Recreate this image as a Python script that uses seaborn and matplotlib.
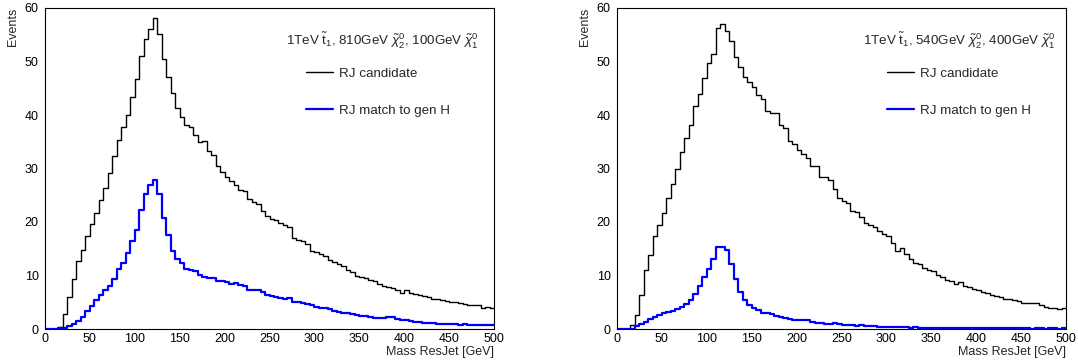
import numpy as np
import pandas as pd
import matplotlib
matplotlib.use("Agg")
import matplotlib.pyplot as plt
from matplotlib.lines import Line2D
from matplotlib.ticker import MultipleLocator
import seaborn as sns

# ---------------- data ----------------
n_bins = 100
mass_range = (0, 500)
bin_centers = np.arange(2.5, 500, 5)      # centres of 5 GeV bins

left_candidate = [
    0, 0, 0, 0.3, 2.8, 6.0, 9.3, 12.8, 14.8, 17.4,
    19.7, 21.6, 24.1, 26.3, 29.2, 32.4, 35.4, 37.7, 40.0, 43.4,
    46.7, 51.0, 54.2, 56.0, 58.2, 55.2, 50.4, 47.1, 44.1, 41.4,
    39.7, 38.2, 37.7, 36.3, 34.9, 35.1, 33.3, 32.6, 30.4, 29.4,
    28.4, 27.7, 27.0, 25.9, 25.8, 24.3, 23.7, 23.4, 22.1, 21.2,
    20.6, 20.3, 19.9, 19.5, 19.0, 17.1, 16.7, 16.4, 15.9, 14.6,
    14.3, 14.1, 13.6, 12.9, 12.6, 12.2, 11.7, 11.0, 10.6, 10.0,
    9.8, 9.5, 9.2, 9.0, 8.5, 8.1, 7.8, 7.7, 7.3, 6.8,
    7.2, 6.7, 6.5, 6.3, 6.1, 5.9, 5.7, 5.6, 5.4, 5.2,
    5.1, 5.0, 4.8, 4.7, 4.5, 4.4, 4.4, 4.0, 4.2, 4.0,
]
left_match = [
    0, 0, 0, 0.1, 0.2, 0.5, 0.9, 1.5, 2.3, 3.4,
    4.3, 5.5, 6.3, 7.2, 8.1, 9.4, 11.2, 12.4, 14.2, 16.5,
    18.5, 22.3, 25.2, 26.9, 27.9, 25.2, 20.7, 17.6, 14.6, 13.1,
    12.3, 11.2, 11.0, 10.8, 10.1, 9.8, 9.6, 9.5, 9.0, 8.9,
    8.7, 8.5, 8.6, 8.3, 8.0, 7.3, 7.2, 7.2, 6.9, 6.4,
    6.2, 6.0, 5.8, 5.6, 5.8, 5.1, 5.0, 4.9, 4.7, 4.4,
    4.2, 4.0, 3.9, 3.7, 3.4, 3.2, 3.0, 2.9, 2.8, 2.7,
    2.5, 2.4, 2.3, 2.1, 2.0, 2.0, 2.3, 2.2, 1.9, 1.7,
    1.7, 1.5, 1.4, 1.3, 1.2, 1.2, 1.1, 1.0, 1.0, 0.9,
    0.9, 0.9, 0.8, 0.9, 0.8, 0.75, 0.8, 0.7, 0.7, 0.7,
]
right_candidate = [
    0, 0, 0, 0.7, 2.6, 6.3, 11.0, 13.8, 17.3, 19.4,
    21.7, 24.5, 27.1, 29.9, 33.1, 35.7, 38.1, 41.7, 43.9, 46.9,
    49.8, 51.4, 56.3, 57.0, 55.7, 53.8, 50.8, 49.0, 47.1, 46.1,
    45.2, 43.8, 43.0, 40.8, 40.4, 40.3, 38.1, 37.5, 35.2, 34.5,
    33.5, 32.7, 32.0, 30.5, 30.5, 28.5, 28.4, 27.9, 26.1, 24.5,
    24.0, 23.6, 22.1, 21.8, 20.9, 19.9, 19.5, 19.0, 18.4, 17.7,
    17.3, 16.1, 14.5, 15.1, 14.0, 13.1, 12.4, 12.2, 11.4, 11.1,
    10.8, 10.1, 9.8, 9.2, 8.9, 8.5, 8.7, 8.0, 7.8, 7.5,
    7.2, 6.9, 6.7, 6.4, 6.1, 5.9, 5.7, 5.6, 5.4, 5.2,
    4.9, 4.9, 4.9, 4.9, 4.4, 4.1, 4.0, 3.9, 3.8, 3.9,
]
right_match = [
    0, 0, 0, 0.05, 0.5, 0.9, 1.3, 1.9, 2.3, 2.6,
    2.9, 3.2, 3.3, 3.7, 4.1, 4.6, 5.5, 6.6, 8.0, 9.7,
    11.2, 13.1, 15.4, 15.3, 14.8, 12.2, 9.3, 6.9, 5.4, 4.5,
    3.9, 3.5, 3.0, 3.0, 2.8, 2.4, 2.3, 2.0, 1.8, 1.6,
    1.6, 1.6, 1.7, 1.4, 1.2, 1.1, 0.9, 1.0, 1.1, 0.9,
    0.8, 0.8, 0.7, 0.6, 0.7, 0.5, 0.6, 0.5, 0.4, 0.4,
    0.4, 0.3, 0.3, 0.35, 0.3, 0.25, 0.3, 0.25, 0.2, 0.25,
    0.2, 0.2, 0.2, 0.15, 0.2, 0.15, 0.2, 0.15, 0.15, 0.1,
    0.15, 0.1, 0.15, 0.1, 0.1, 0.1, 0.1, 0.1, 0.1, 0.1,
    0.1, 0.1, 0.05, 0.1, 0.1, 0.05, 0.1, 0.1, 0.05, 0.1,
]

panel_titles = [
    r"1TeV $\tilde{\mathrm{t}}_{1}$, 810GeV $\tilde{\chi}_{2}^{0}$, 100GeV $\tilde{\chi}_{1}^{0}$",
    r"1TeV $\tilde{\mathrm{t}}_{1}$, 540GeV $\tilde{\chi}_{2}^{0}$, 400GeV $\tilde{\chi}_{1}^{0}$",
]
series_labels = ["RJ candidate", "RJ match to gen H"]
x_label = "Mass ResJet [GeV]"
y_label = "Events"

# ---------------- style ----------------
sns.set_style("white")
plt.rcParams["font.family"] = ["Liberation Sans", "DejaVu Sans"]
plt.rcParams["mathtext.fontset"] = "custom"
plt.rcParams["mathtext.rm"] = "Liberation Sans"
plt.rcParams["mathtext.it"] = "Liberation Sans:italic"
plt.rcParams["mathtext.bf"] = "Liberation Sans:bold"

TICK_FS = 9.0
LAB_FS = 9.0
LEG_FS = 9.6
fig = plt.figure(figsize=(10.78, 3.62), dpi=100)
W, H = 1078, 362

panels = [
    (45, left_candidate, left_match, panel_titles[0], 0.751, 0.581),
    (617, right_candidate, right_match, panel_titles[1], 0.762, 0.601),
]

for x0, cand, match, title, tx, lx in panels:
    ax = fig.add_axes([x0 / W, (H - 329) / H, 449 / W, 321 / H])
    df = pd.DataFrame({"mass": bin_centers,
                       "cand": np.asarray(cand, float),
                       "match": np.asarray(match, float)})
    sns.histplot(data=df, x="mass", weights="cand", bins=n_bins, binrange=mass_range,
                 element="step", fill=False, color="black", linewidth=1.0, ax=ax)
    sns.histplot(data=df, x="mass", weights="match", bins=n_bins, binrange=mass_range,
                 element="step", fill=False, color="#0000ff", linewidth=1.6, ax=ax)
    ax.set_xlim(*mass_range)
    ax.set_ylim(0, 60)
    ax.xaxis.set_major_locator(MultipleLocator(50))
    ax.xaxis.set_minor_locator(MultipleLocator(10))
    ax.yaxis.set_major_locator(MultipleLocator(10))
    ax.yaxis.set_minor_locator(MultipleLocator(2))
    ax.tick_params(which="both", direction="in", top=False, right=False,
                   colors="black", width=0.7, labelsize=TICK_FS)
    ax.tick_params(axis="y", which="major", length=9.7, pad=4.5)
    ax.tick_params(axis="y", which="minor", length=4.8)
    ax.tick_params(axis="x", which="major", length=6.9, pad=3)
    ax.tick_params(axis="x", which="minor", length=3.5)
    for sp in ax.spines.values():
        sp.set_color("black")
        sp.set_linewidth(0.8)

    ax.set_ylabel(y_label, loc="top", fontsize=LAB_FS)
    ax.yaxis.set_label_coords(-0.058, 1.0)
    ax.set_xlabel(x_label, loc="right", fontsize=LAB_FS)
    ax.xaxis.set_label_coords(1.0, -0.053)

    ax.text(tx, 0.882, title, transform=ax.transAxes, ha="center", va="baseline",
            fontsize=LEG_FS)

    handles = [Line2D([], [], color="black", lw=1.0),
               Line2D([], [], color="#0000ff", lw=1.6)]
    ax.legend(handles, series_labels, loc="upper left", bbox_to_anchor=(lx, 0.815),
              frameon=False, fontsize=LEG_FS, borderpad=0, borderaxespad=0,
              handlelength=2.0, handletextpad=0.5, labelspacing=1.85)

fig.savefig("out.png", dpi=100)
